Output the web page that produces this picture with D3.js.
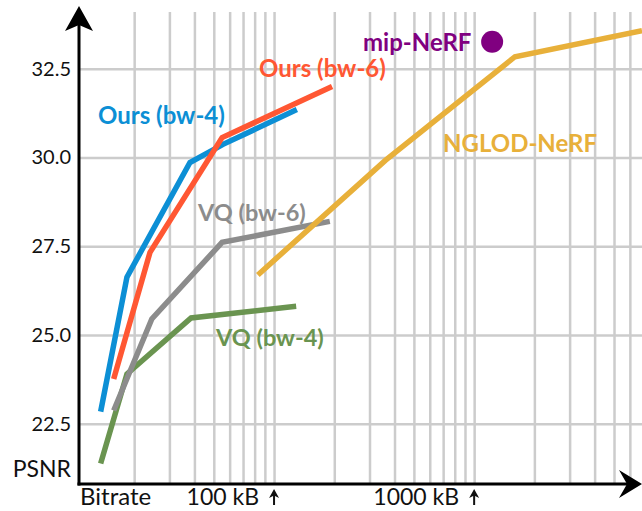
<!DOCTYPE html>
<html>
<head>
<meta charset="utf-8">
<script src="https://cdn.jsdelivr.net/npm/d3@7"></script>
<style>
    body { margin: 0; background: #fff; }
    svg text { font-family: Lato, "Open Sans", sans-serif; }
</style>
</head>
<body>
<div id="chart"></div>
<script>
// bitrate in kB, PSNR in dB
const oursBw4 = [[13.6, 22.84], [18.4, 26.63], [38, 29.86], [55.6, 30.37], [130, 31.35]];
const oursBw6 = [[15.8, 23.76], [24, 27.33], [55, 30.56], [195, 32.0]];
const vqBw6 = [[15.8, 22.87], [24.5, 25.45], [55, 27.61], [190, 28.2]];
const vqBw4 = [[13.6, 21.38], [18.4, 23.9], [38.5, 25.48], [129, 25.81]];
const nglodNerf = [[83, 26.69], [360, 29.92], [1600, 32.84], [6900, 33.57]];
const mipNerf = [1230, 33.26];

const yTicks = [22.5, 25.0, 27.5, 30.0, 32.5];
const xMarks = [100, 1000];
const xMarkLabels = ["100 kB", "1000 kB"];

const width = 642, height = 511;
const plot = { left: 79, right: 642, top: 12, bottom: 484 };

let svg = d3.select('#chart')
    .append('svg')
    .attr('width', width)
    .attr('height', height);

let x = d3.scaleLog()
    .domain([10.6, 6900])
    .range([plot.left, plot.right]);

let y = d3.scaleLinear()
    .domain([20.8, 34.1])
    .range([plot.bottom, plot.top]);

// vertical grid (log minor ticks)
let gx = svg.append('g')
    .attr('transform', 'translate(0,' + plot.bottom + ')')
    .call(d3.axisBottom(x)
        .tickValues(x.ticks().filter(d => x(d) > plot.left + 5 && x(d) < plot.right))
        .tickSize(-(plot.bottom - plot.top))
        .tickFormat(''));
gx.select('.domain').remove();
gx.selectAll('line').attr('stroke', '#cccccc').attr('stroke-width', 2.5);

// horizontal grid + y labels
let gy = svg.append('g')
    .attr('transform', 'translate(' + plot.left + ',0)')
    .call(d3.axisLeft(y)
        .tickValues(yTicks)
        .tickSize(-(plot.right - plot.left))
        .tickPadding(8)
        .tickFormat(d3.format('.1f')));
gy.select('.domain').remove();
gy.selectAll('line').attr('stroke', '#cccccc').attr('stroke-width', 2.5);
gy.selectAll('text')
    .attr('font-size', 20)
    .attr('fill', '#111')
    .style('font-family', 'Lato, sans-serif');

// series
const series = [
    { data: vqBw4, color: '#6a9450' },
    { data: vqBw6, color: '#8c8c8c' },
    { data: nglodNerf, color: '#e8b03a' },
    { data: oursBw4, color: '#0c8fd5' },
    { data: oursBw6, color: '#ff5733' }
];

let line = d3.line()
    .x(d => x(d[0]))
    .y(d => y(d[1]));

svg.append('defs').append('clipPath')
    .attr('id', 'plot-clip')
    .append('rect')
    .attr('x', plot.left).attr('y', 0)
    .attr('width', plot.right - plot.left).attr('height', plot.bottom);

svg.append('g')
    .attr('clip-path', 'url(#plot-clip)')
    .selectAll('path')
    .data(series)
    .join('path')
    .attr('d', d => line(d.data))
    .attr('fill', 'none')
    .attr('stroke', d => d.color)
    .attr('stroke-width', 5.5)
    .attr('stroke-linejoin', 'miter');

svg.append('circle')
    .attr('cx', x(mipNerf[0]))
    .attr('cy', y(mipNerf[1]))
    .attr('r', 11)
    .attr('fill', '#800080');

// series labels
const labels = [
    { text: 'Ours (bw-4)', color: '#0c8fd5', x: 98, y: 115, size: 24 },
    { text: 'Ours (bw-6)', color: '#ff5733', x: 259, y: 68, size: 24 },
    { text: 'VQ (bw-6)', color: '#8c8c8c', x: 198, y: 213, size: 23.5 },
    { text: 'VQ (bw-4)', color: '#6a9450', x: 216, y: 338, size: 23.5 },
    { text: 'mip-NeRF', color: '#800080', x: 363, y: 42, size: 24 },
    { text: 'NGLOD-NeRF', color: '#e8b03a', x: 443, y: 143, size: 24 }
];
svg.append('g')
    .selectAll('text')
    .data(labels)
    .join('text')
    .attr('x', d => d.x)
    .attr('y', d => d.y)
    .attr('dy', '0.36em')
    .attr('font-size', d => d.size)
    .attr('font-weight', 'bold')
    .attr('fill', d => d.color)
    .text(d => d.text);

// axes with arrowheads
svg.append('line')
    .attr('x1', plot.left).attr('x2', plot.left)
    .attr('y1', plot.bottom + 1.5).attr('y2', 20)
    .attr('stroke', '#000').attr('stroke-width', 3);
svg.append('path')
    .attr('d', `M${plot.left},6 L${plot.left + 14},31 L${plot.left},25 L${plot.left - 14},31 Z`)
    .attr('fill', '#000');

svg.append('line')
    .attr('x1', plot.left - 1.5).attr('x2', 630)
    .attr('y1', plot.bottom).attr('y2', plot.bottom)
    .attr('stroke', '#000').attr('stroke-width', 3);
svg.append('path')
    .attr('d', `M642,${plot.bottom} L619,${plot.bottom - 14} L627,${plot.bottom} L619,${plot.bottom + 14} Z`)
    .attr('fill', '#000');

// axis titles
svg.append('text')
    .attr('x', 71).attr('y', 477)
    .attr('text-anchor', 'end')
    .attr('font-size', 23)
    .attr('fill', '#111')
    .text('PSNR');
svg.append('text')
    .attr('x', 80).attr('y', 505)
    .attr('font-size', 24)
    .attr('fill', '#111')
    .text('Bitrate');

// kB marks with little up arrows
let marks = svg.append('g')
    .selectAll('g')
    .data(xMarks)
    .join('g')
    .attr('transform', d => 'translate(' + x(d) + ',0)');
marks.append('text')
    .attr('x', -15).attr('y', 505)
    .attr('text-anchor', 'end')
    .attr('font-size', 23)
    .attr('fill', '#111')
    .text((d, i) => xMarkLabels[i]);
marks.append('path')
    .attr('d', 'M0,489 L5,498 L1,496 L1,505 L-1,505 L-1,496 L-5,498 Z')
    .attr('fill', '#111');
</script>
</body>
</html>
